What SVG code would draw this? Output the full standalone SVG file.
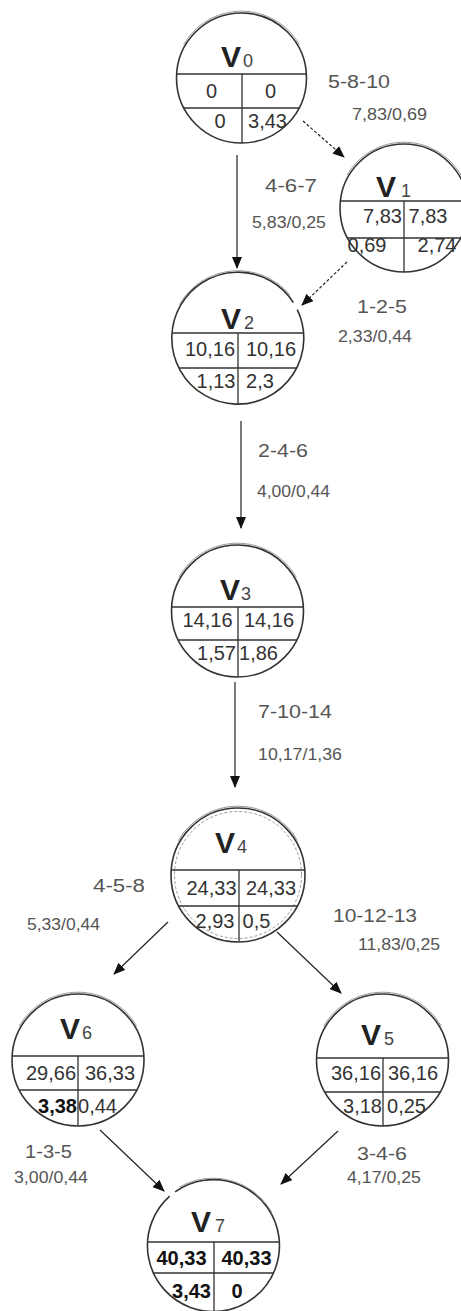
<svg xmlns="http://www.w3.org/2000/svg" width="461" height="1311" viewBox="0 0 461 1311">
  <style>
    .ring { fill: #fff; stroke: #333; stroke-width: 1.6; }
    .rim { fill: none; stroke: #999; stroke-width: 1; }
    .inner { fill: none; stroke: #999; stroke-width: 1; stroke-dasharray: 3 2; }
    .grid { stroke: #333; stroke-width: 1.3; fill: none; }
    .v { font-family: "Liberation Sans", Arial, sans-serif; font-weight: bold; font-size: 30px; fill: #222; }
    .sub { font-family: "Liberation Sans", Arial, sans-serif; font-size: 18px; fill: #444; }
    .cell { font-family: "Liberation Sans", Arial, sans-serif; font-size: 20px; fill: #333; text-anchor: middle; }
    .b { font-weight: bold; fill: #111; }
    .lbl { font-family: "Liberation Sans", Arial, sans-serif; font-size: 18px; fill: #555; }
    .num { font-family: "Liberation Sans", Arial, sans-serif; font-size: 16px; fill: #555; }
    .edge { stroke: #222; stroke-width: 1.2; fill: none; }
    .dash { stroke-dasharray: 3 2; }
  </style>
  <defs>
    <marker id="head" viewBox="0 0 12 10" refX="11" refY="5" markerWidth="12" markerHeight="10" markerUnits="userSpaceOnUse" orient="auto">
      <path d="M0,0 L12,5 L0,10 z" fill="#111"/>
    </marker>
  </defs>

  <!-- connectors -->
  <g id="edges">
    <path class="edge dash" d="M303 121 L344 157" marker-end="url(#head)"/>
    <path class="edge" d="M237 155 L237 268" marker-end="url(#head)"/>
    <path class="edge dash" d="M347 262 L302 305" marker-end="url(#head)"/>
    <path class="edge" d="M241 421 L241 528" marker-end="url(#head)"/>
    <path class="edge" d="M235 682 L235 787" marker-end="url(#head)"/>
    <path class="edge" d="M168 922 L114 974" marker-end="url(#head)"/>
    <path class="edge" d="M277 932 L341 993" marker-end="url(#head)"/>
    <path class="edge" d="M100 1130 L164 1191" marker-end="url(#head)"/>
    <path class="edge" d="M338 1131 L281 1184" marker-end="url(#head)"/>
  </g>

  <!-- edge labels -->
  <g id="edge-labels">
    <text class="lbl" x="328" y="88" textLength="62" lengthAdjust="spacingAndGlyphs">5-8-10</text>
    <text class="num" x="352" y="120" textLength="75" lengthAdjust="spacingAndGlyphs">7,83/0,69</text>
    <text class="lbl" x="265" y="192" textLength="52" lengthAdjust="spacingAndGlyphs">4-6-7</text>
    <text class="num" x="252" y="228" textLength="74" lengthAdjust="spacingAndGlyphs">5,83/0,25</text>
    <text class="lbl" x="357" y="313" textLength="50" lengthAdjust="spacingAndGlyphs">1-2-5</text>
    <text class="num" x="338" y="342" textLength="74" lengthAdjust="spacingAndGlyphs">2,33/0,44</text>
    <text class="lbl" x="258" y="457" textLength="50" lengthAdjust="spacingAndGlyphs">2-4-6</text>
    <text class="num" x="257" y="497" textLength="73" lengthAdjust="spacingAndGlyphs">4,00/0,44</text>
    <text class="lbl" x="258" y="718" textLength="74" lengthAdjust="spacingAndGlyphs">7-10-14</text>
    <text class="num" x="258" y="760" textLength="84" lengthAdjust="spacingAndGlyphs">10,17/1,36</text>
    <text class="lbl" x="93" y="892" textLength="52" lengthAdjust="spacingAndGlyphs">4-5-8</text>
    <text class="num" x="27" y="930" textLength="73" lengthAdjust="spacingAndGlyphs">5,33/0,44</text>
    <text class="lbl" x="333" y="922" textLength="84" lengthAdjust="spacingAndGlyphs">10-12-13</text>
    <text class="num" x="358" y="950" textLength="82" lengthAdjust="spacingAndGlyphs">11,83/0,25</text>
    <text class="lbl" x="25" y="1158" textLength="47" lengthAdjust="spacingAndGlyphs">1-3-5</text>
    <text class="num" x="14" y="1183" textLength="74" lengthAdjust="spacingAndGlyphs">3,00/0,44</text>
    <text class="lbl" x="357" y="1160" textLength="50" lengthAdjust="spacingAndGlyphs">3-4-6</text>
    <text class="num" x="347" y="1183" textLength="74" lengthAdjust="spacingAndGlyphs">4,17/0,25</text>
  </g>

  <!-- V0 -->
  <g id="v0">
    <circle class="ring" cx="241.5" cy="78" r="65"/>
    <path class="rim" d="M183.65 44.6 A66.8 66.8 0 0 1 299.35 44.6"/>
    <path class="grid" d="M176.6 74 H306.4 M183.8 108 H299.2 M242 74 V143"/>
    <text class="v" x="221" y="67">V</text><text class="sub" x="243" y="67">0</text>
    <text class="cell" x="211.5" y="98">0</text>
    <text class="cell" x="270.5" y="98">0</text>
    <text class="cell" x="220" y="128">0</text>
    <text class="cell" x="267.5" y="128">3,43</text>
  </g>

  <!-- V1 -->
  <g id="v1">
    <circle class="ring" cx="404" cy="208" r="64"/>
    <path class="rim" d="M347 175.1 A65.8 65.8 0 0 1 461 175.1"/>
    <path class="grid" d="M340.4 201 H461 M347.5 238 H460.5 M404 201 V272"/>
    <text class="v" x="376" y="197">V</text><text class="sub" x="401" y="197">1</text>
    <text class="cell" x="382.5" y="223">7,83</text>
    <text class="cell" x="428" y="223">7,83</text>
    <text class="cell" x="367" y="252">0,69</text>
    <text class="cell" x="437" y="252">2,74</text>
  </g>

  <!-- V2 -->
  <g id="v2">
    <path class="ring" d="M297.3 309.6 A66 66 0 1 1 293.4 302.6"/>
    <path class="rim" d="M179.3 304.6 A67.8 67.8 0 0 1 289.9 294.9"/>
    <path class="grid" d="M172.2 333 H303.8 M179 368 H297 M238 333 V404.5"/>
    <text class="v" x="221" y="329">V</text><text class="sub" x="244" y="329">2</text>
    <text class="cell" x="210" y="356">10,16</text>
    <text class="cell" x="271" y="356">10,16</text>
    <text class="cell" x="216" y="388">1,13</text>
    <text class="cell" x="260" y="388">2,3</text>
  </g>

  <!-- V3 -->
  <g id="v3">
    <circle class="ring" cx="237.5" cy="611" r="66"/>
    <path class="rim" d="M178.8 577.1 A67.8 67.8 0 0 1 296.2 577.1"/>
    <path class="grid" d="M171.6 607 H303.4 M178.2 640 H296.8 M238 607 V677"/>
    <text class="v" x="220" y="600">V</text><text class="sub" x="241" y="600">3</text>
    <text class="cell" x="207.5" y="627">14,16</text>
    <text class="cell" x="269" y="627">14,16</text>
    <text class="cell" x="216.5" y="660">1,57</text>
    <text class="cell" x="258.5" y="660">1,86</text>
  </g>

  <!-- V4 -->
  <g id="v4">
    <circle class="ring" cx="238" cy="875" r="67"/>
    <circle class="inner" cx="238" cy="875" r="63.5"/>
    <path class="rim" d="M178.4 840.6 A68.8 68.8 0 0 1 297.6 840.6"/>
    <path class="grid" d="M171.2 870 H304.8 M178.6 906 H297.4 M239 870 V942"/>
    <text class="v" x="215" y="853">V</text><text class="sub" x="237" y="853">4</text>
    <text class="cell" x="211.5" y="895">24,33</text>
    <text class="cell" x="271" y="895">24,33</text>
    <text class="cell" x="215" y="928">2,93</text>
    <text class="cell" x="256.5" y="928">0,5</text>
  </g>

  <!-- V6 -->
  <g id="v6">
    <circle class="ring" cx="78" cy="1060" r="66"/>
    <path class="rim" d="M19.3 1026.1 A67.8 67.8 0 0 1 136.7 1026.1"/>
    <path class="grid" d="M12.1 1056 H143.9 M19.2 1090 H136.8 M78 1056 V1126"/>
    <text class="v" x="60" y="1039">V</text><text class="sub" x="82" y="1039">6</text>
    <text class="cell" x="51" y="1080">29,66</text>
    <text class="cell" x="110" y="1080">36,33</text>
    <text class="cell b" x="57.5" y="1113">3,38</text>
    <text class="cell" x="97.5" y="1113">0,44</text>
  </g>

  <!-- V5 -->
  <g id="v5">
    <circle class="ring" cx="382.5" cy="1060" r="66"/>
    <path class="rim" d="M323.8 1026.1 A67.8 67.8 0 0 1 441.2 1026.1"/>
    <path class="grid" d="M316.5 1058 H448.5 M324.8 1092 H440.2 M383 1058 V1126"/>
    <text class="v" x="361" y="1045">V</text><text class="sub" x="384" y="1045">5</text>
    <text class="cell" x="356" y="1080">36,16</text>
    <text class="cell" x="413" y="1080">36,16</text>
    <text class="cell" x="362.5" y="1113">3,18</text>
    <text class="cell" x="406.5" y="1113">0,25</text>
  </g>

  <!-- V7 -->
  <g id="v7">
    <path class="ring" d="M175.1 1191.9 A66 66 0 1 1 169.7 1196.2"/>
    <path class="rim" d="M179.1 1187.3 A67.8 67.8 0 0 1 271.7 1212.1"/>
    <path class="grid" d="M147.1 1242 H278.9 M152.8 1273 H273.2 M214 1242 V1312"/>
    <text class="v" x="191" y="1232">V</text><text class="sub" x="215" y="1232">7</text>
    <text class="cell b" x="181.5" y="1265">40,33</text>
    <text class="cell b" x="246.5" y="1265">40,33</text>
    <text class="cell b" x="191.5" y="1298">3,43</text>
    <text class="cell b" x="237" y="1298">0</text>
  </g>
</svg>
